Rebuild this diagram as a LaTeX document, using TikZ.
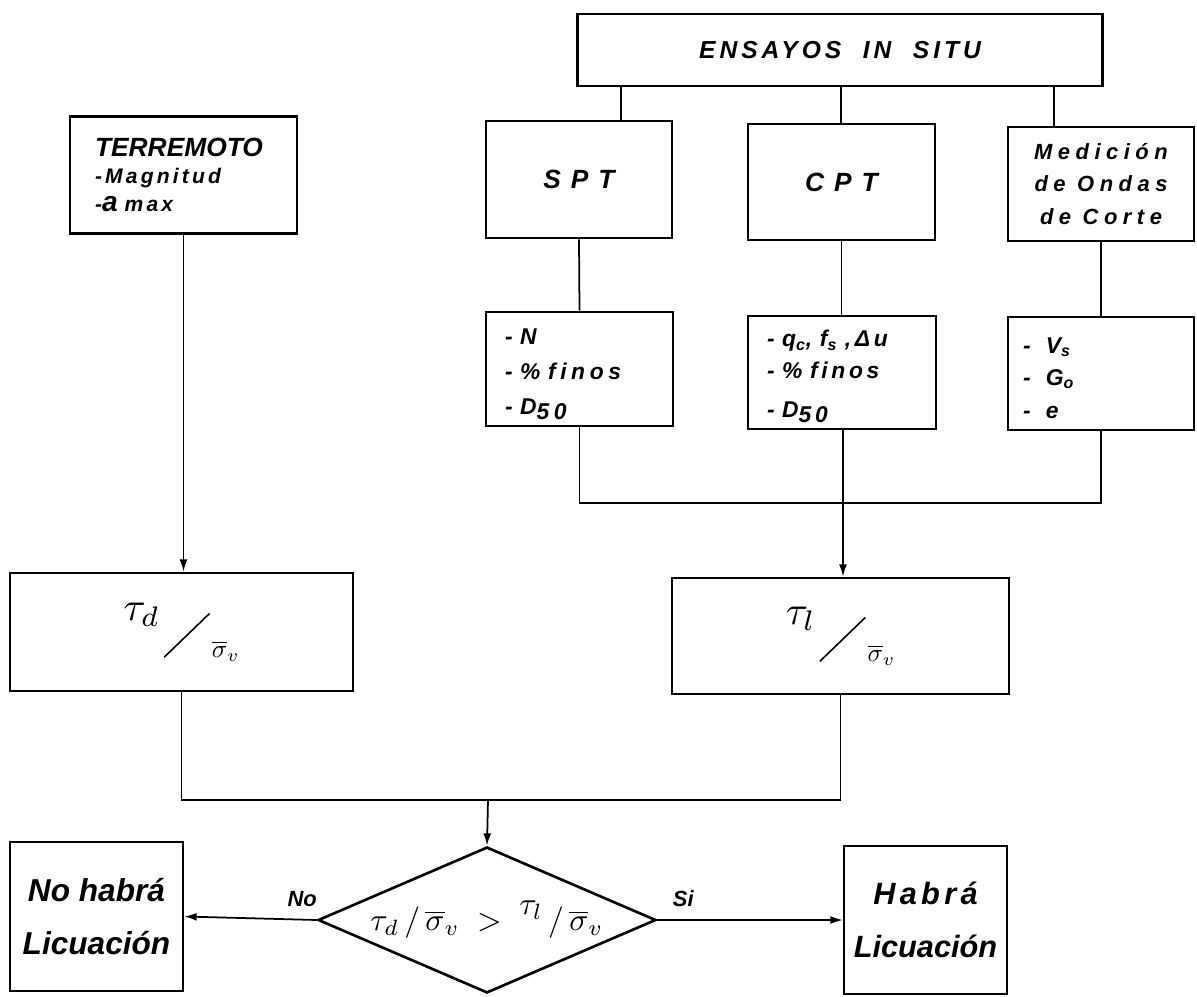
\documentclass[tikz,border=0pt]{standalone}
\usepackage{fontspec}
\usepackage{graphicx}
\setmainfont{Liberation Sans}
\usetikzlibrary{shapes.geometric,arrows.meta}
\newcommand{\sigv}{\overline{\sigma}_{v}}
\newcommand{\taufrac}[1]{\raisebox{9pt}{\scalebox{2.3}{$\tau_{#1}$}}\hspace{2pt}\rotatebox[origin=c]{44}{\rule{36pt}{0.9pt}}\hspace{1pt}\raisebox{-12pt}{\scalebox{1.45}{$\sigv$}}\hspace{22pt}}
\newcommand{\fsz}[2]{\fontsize{#1}{#2}\selectfont}
\begin{document}
\begin{tikzpicture}[x=0.02cm,y=-0.02cm,
  box/.style={draw, line width=1.5pt, rectangle, inner sep=0pt, font=\bfseries\itshape},
  conn/.style={line width=1pt},
  arr/.style={conn, -{Latex[length=7pt,width=4.5pt]}},
  lab/.style={font=\bfseries\itshape\fsz{12.5}{14}, inner sep=1pt}
]
\useasboundingbox (0,0) rectangle (1197,997);
\fill[white] (0,0) rectangle (1197,997);

% top row
\node[box, minimum width=10.5cm, minimum height=1.44cm,
  font=\bfseries\itshape\fsz{14}{17}\addfontfeatures{LetterSpace=16}] (top) at (840,50)
  {ENSAYOS\ \ IN\ \ SITU\hspace{22pt}};
\node[box, minimum width=4.54cm, minimum height=2.34cm, text width=3.54cm, align=left,
  font=\bfseries\itshape\fsz{12}{16}\addfontfeatures{LetterSpace=15}] (terr) at (183.5,175)
  {{\fsz{15}{16}\addfontfeatures{LetterSpace=0}TERREMOTO}\\[-1pt]
   -Magnitud\\
   -{\fsz{16}{16}a} max};
\node[box, minimum width=3.72cm, minimum height=2.34cm,
  font=\bfseries\itshape\fsz{15}{18}\addfontfeatures{LetterSpace=10}] (spt) at (579,179.5)
  {S P T\hspace{13pt}};
\node[box, minimum width=3.74cm, minimum height=2.32cm,
  font=\bfseries\itshape\fsz{15}{18}\addfontfeatures{LetterSpace=10}] (cpt) at (841.5,182)
  {C P T\hspace{16pt}};
\node[box, minimum width=3.72cm, minimum height=2.28cm, align=center,
  font=\bfseries\itshape\fsz{12.5}{18.5}\addfontfeatures{LetterSpace=25}] (med) at (1101,184)
  {Medición\\de Ondas\\de Corte};

% parameter boxes
\node[box, minimum width=3.74cm, minimum height=2.28cm, text width=2.98cm, align=left,
  font=\bfseries\itshape\fsz{13}{20}\addfontfeatures{LetterSpace=20}] (sptp) at (579.5,369)
  {\rule{0pt}{15pt}- N\\- \% finos\\- D\raisebox{-3pt}{50}};
\node[box, minimum width=3.76cm, minimum height=2.26cm, text width=3.0cm, align=left,
  font=\bfseries\itshape\fsz{13}{18}\addfontfeatures{LetterSpace=16}] (cptp) at (842,372.5)
  {\rule{0pt}{14pt}- q\textsubscript{c}, f\textsubscript{s} ,Δu\\- \% finos\\[4pt]- D\raisebox{-3pt}{50}};
\node[box, minimum width=3.72cm, minimum height=2.26cm, text width=3.12cm, align=left,
  font=\bfseries\itshape\fsz{13}{18.5}\addfontfeatures{LetterSpace=20}] (medp) at (1101,373.5)
  {\rule{0pt}{14pt}-\ \ V\textsubscript{s}\\-\ \ G\textsubscript{o}\\-\ \ e};

% ratio boxes
\node[box, minimum width=6.86cm, minimum height=2.36cm] (taud) at (181.5,632) {\taufrac{d}};
\node[box, minimum width=6.74cm, minimum height=2.32cm] (taul) at (840.5,636) {\taufrac{l}};

% decision
\node[draw, line width=1.5pt, diamond, aspect=2.3, inner sep=0pt, minimum width=6.76cm, minimum height=2.92cm] (dia) at (487,920)
  {\scalebox{1.8}{$\tau_d\,/\,\sigv\;>\;\raisebox{5pt}{$\tau_l$}\,/\,\sigv$}\hspace{20pt}};

% results
\node[box, minimum width=3.46cm, minimum height=2.98cm, align=center,
  font=\bfseries\itshape\fsz{18}{30}] (no) at (96.5,916.5)
  {No habrá\\Licuación};
\node[box, minimum width=3.26cm, minimum height=2.96cm, align=center,
  font=\bfseries\itshape\fsz{17.5}{30}] (si) at (925.5,920)
  {{\addfontfeatures{LetterSpace=14}Habrá}\\Licuación};

% helper coordinates
\coordinate (c1) at (621,0);
\coordinate (c2) at (841,0);
\coordinate (c3) at (1054,0);
\coordinate (j1) at (843,503);
\coordinate (j2) at (488,800);

% connectors
\draw[conn] (top.south -| c1) -- (spt.north -| c1);
\draw[conn] (top.south -| c2) -- (cpt.north -| c2);
\draw[conn] (top.south -| c3) -- (med.north -| c3);
\draw[conn] (spt.south) -- (sptp.north);
\draw[conn] (cpt.south) -- (cpt.south |- cptp.north);
\draw[conn] (med.south) -- (medp.north);
\draw[conn] (sptp.south) |- (j1);
\draw[conn] (medp.south) |- (j1);
\draw[arr] (cptp.south -| j1) -- (taul.north -| j1);
\draw[arr] (terr.south) -- (terr.south |- taud.north);
\draw[conn] (taud.south) |- (j2);
\draw[conn] (taul.south) |- (j2);
\draw[arr] (j2) -- (dia.north);
\draw[arr] (dia.west) -- node[lab, pos=0.11, above=6pt] (nolab) {No} (no.east);
\draw[arr] (dia.east) -- node[lab, pos=0.14, above=6pt] (silab) {Si} (si.west);
\end{tikzpicture}
\end{document}
